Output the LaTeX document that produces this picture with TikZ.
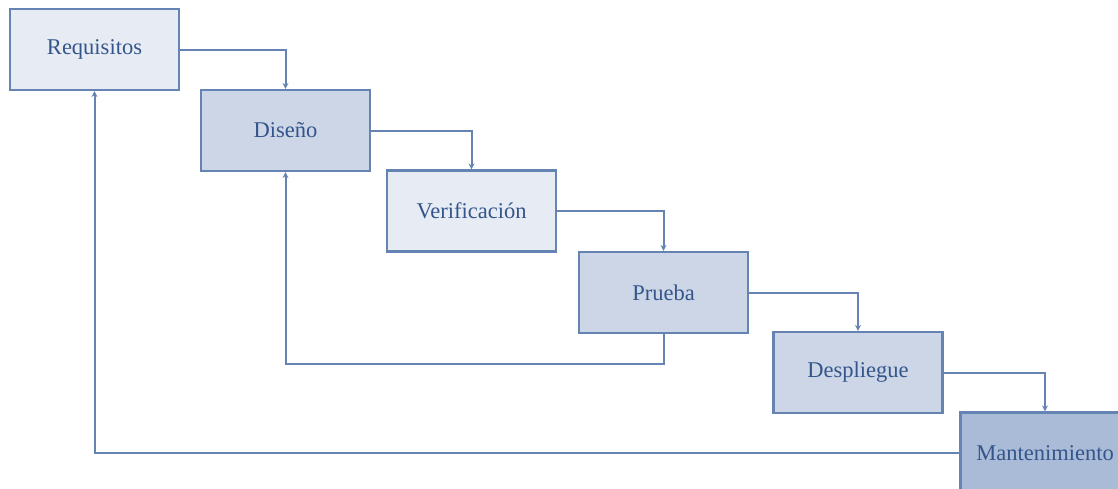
\documentclass[tikz,border=0pt]{standalone}
\usepackage{fontspec}
\setmainfont{Liberation Serif}
\usetikzlibrary{arrows.meta}
\definecolor{edgeblue}{HTML}{6584B4}
\definecolor{textblue}{HTML}{34558B}
\definecolor{fillA}{HTML}{E7ECF4}
\definecolor{fillB}{HTML}{CCD6E7}
\definecolor{fillC}{HTML}{AABBD7}
\tikzset{
  phase/.style={draw=edgeblue, line width=2.2pt, minimum width=169pt, minimum height=81pt,
    inner sep=0pt, text=textblue, font=\fontsize{22.5}{25}\selectfont},
  flow/.style={draw=edgeblue, line width=2pt, -{Stealth[length=6pt,width=6pt]}}
}
\begin{document}
\begin{tikzpicture}[x=1pt,y=-1pt]
\useasboundingbox (0,0) rectangle (1118,488);
\clip (0,0) rectangle (1118,488);
\fill[white] (0,0) rectangle (1118,488);
% the six stages of the waterfall
\node[phase, fill=fillA] (req) at (94.5,49.5) {Requisitos};
\node[phase, fill=fillB] (dis) at (285.5,130.5) {Diseño};
\node[phase, fill=fillA] (ver) at (471.5,211) {Verificación};
\node[phase, fill=fillB] (pru) at (663.5,292.5) {Prueba};
\node[phase, fill=fillB] (des) at (858,372.5) {Despliegue};
\node[phase, fill=fillC] (man) at (1045,453) {Mantenimiento};
% forward flow
\draw[flow] (req.east) -| (dis.north);
\draw[flow] (dis.east) -| (ver.north);
\draw[flow] (ver.east) -| (pru.north);
\draw[flow] (pru.east) -| (des.north);
\draw[flow] (des.east) -| (man.north);
% feedback loops
\draw[flow] (pru.south) -- ++(0,30) -| (dis.south);
\draw[flow] (man.west) -| (req.south);
\end{tikzpicture}
\end{document}
